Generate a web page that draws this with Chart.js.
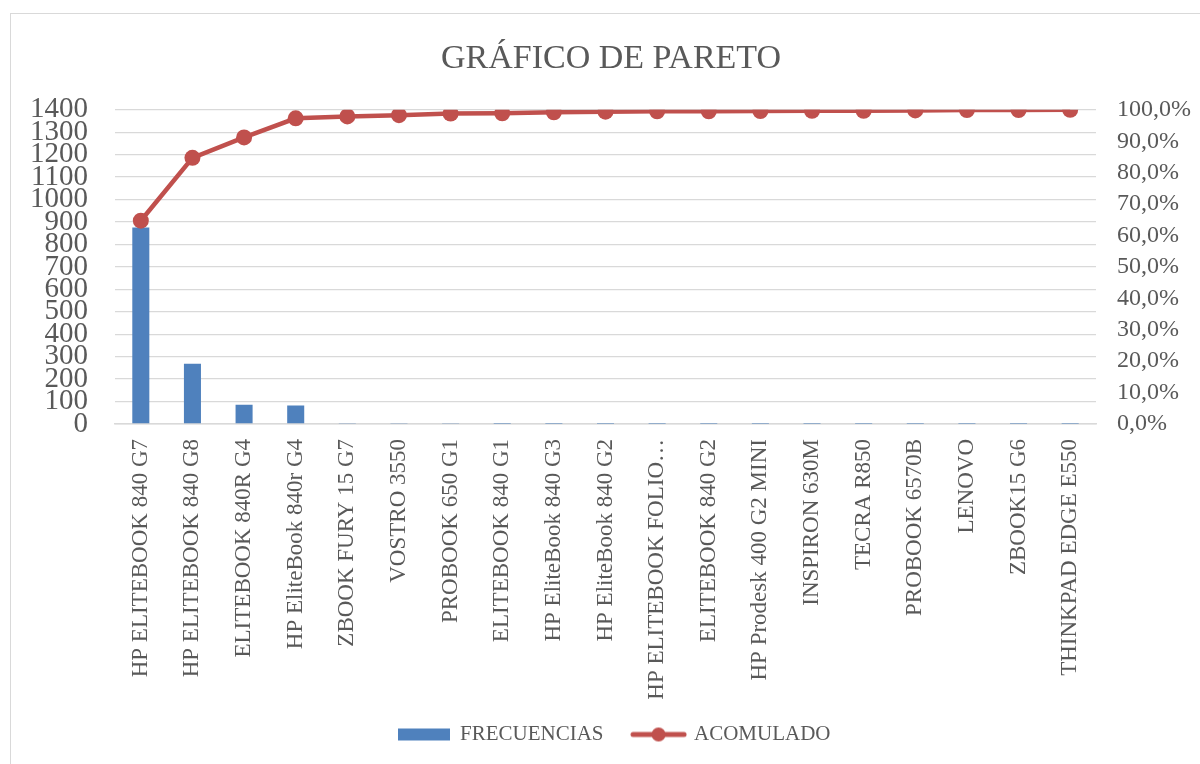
<!DOCTYPE html>
<html>
<head>
<meta charset="utf-8">
<script src="https://cdn.jsdelivr.net/npm/chart.js@4/dist/chart.umd.min.js"></script>
<style>
    html, body { margin: 0; padding: 0; background: #fff; overflow: hidden; }
    #wrap { position: relative; width: 1200px; height: 764px; }
    #frame { position: absolute; left: 10px; top: 13px; width: 1300px; height: 900px; border: 1px solid #d9d9d9; box-sizing: border-box; }
    #paretoChart { position: absolute; left: 0; top: 0; }
</style>
</head>
<body>
<div id="wrap">
    <div id="frame"></div>
    <canvas id="paretoChart" width="1200" height="764"></canvas>
</div>
<script>
const categories = [
    'HP ELITEBOOK 840 G7', 'HP ELITEBOOK 840 G8', 'ELITEBOOK 840R G4', 'HP EliteBook 840r G4',
    'ZBOOK FURY 15 G7', 'VOSTRO 3550', 'PROBOOK 650 G1', 'ELITEBOOK 840 G1',
    'HP EliteBook 840 G3', 'HP EliteBook 840 G2', 'HP ELITEBOOK FOLIO…', 'ELITEBOOK 840 G2',
    'HP Prodesk 400 G2 MINI', 'INSPIRON 630M', 'TECRA R850', 'PROBOOK 6570B',
    'LENOVO', 'ZBOOK15 G6', 'THINKPAD EDGE E550'
];
const frecuencias = [876, 268, 86, 82, 5, 4, 4, 1, 1, 1, 1, 1, 1, 1, 1, 1, 1, 1, 1];
const acomulado = [64.7, 84.7, 91.2, 97.3, 97.9, 98.3, 98.8, 98.9, 99.2, 99.4, 99.5, 99.5, 99.6, 99.7, 99.7, 99.8, 99.9, 99.9, 100.0];
const leftTicks = [0, 1400, 100];
const rightTicks = [0, 100, 10];

const BLUE = '#4F81BD';
const RED = '#C0504D';
const TEXT = '#595959';
const GRID = '#D9D9D9';
const FONT = "'Liberation Serif', 'Times New Roman', serif";

// legend swatches drawn as small canvases
const makeSwatch = (kind) => {
    const c = document.createElement('canvas');
    c.width = 57; c.height = 18;
    const g = c.getContext('2d');
    if (kind === 'bar') {
        g.fillStyle = BLUE;
        g.fillRect(2, 3, 52, 12);
    } else {
        g.strokeStyle = RED; g.lineWidth = 5; g.lineCap = 'round';
        g.beginPath(); g.moveTo(3, 9); g.lineTo(54, 9); g.stroke();
        g.fillStyle = RED;
        g.beginPath(); g.arc(28.5, 9, 7, 0, Math.PI * 2); g.fill();
    }
    return c;
};
const swatches = [makeSwatch('bar'), makeSwatch('line')];

// the excel frame is a bit wider than the page, so title and legend sit right of centre
const shiftBoxes = {
    id: 'shiftBoxes',
    afterLayout(chart) {
        chart.titleBlock.left += 11;
        chart.titleBlock.right += 11;
        chart.legend.left += 15;
        chart.legend.right += 15;
        // let the long category labels run past the axis box instead of being clipped
        chart.scales.x.bottom = chart.height;
    }
};

new Chart(document.getElementById('paretoChart'), {
    data: {
        labels: categories,
        datasets: [
            {
                type: 'line',
                label: 'ACOMULADO',
                data: acomulado.map(v => v / 100),
                yAxisID: 'y1',
                borderColor: RED,
                backgroundColor: RED,
                borderWidth: 4.5,
                pointRadius: 8,
                pointHoverRadius: 8,
                pointBackgroundColor: RED,
                pointBorderWidth: 0,
                tension: 0,
                order: 0
            },
            {
                type: 'bar',
                label: 'FRECUENCIAS',
                data: frecuencias,
                yAxisID: 'y',
                backgroundColor: BLUE,
                borderWidth: 0,
                barPercentage: 0.66,
                categoryPercentage: 0.5,
                order: 1
            }
        ]
    },
    plugins: [shiftBoxes],
    options: {
        responsive: false,
        animation: false,
        layout: { padding: { top: 0, bottom: 9, left: 0, right: 0 } },
        plugins: {
            title: {
                display: true,
                text: 'GRÁFICO DE PARETO',
                color: TEXT,
                font: { family: FONT, size: 34, weight: 'normal', lineHeight: 1.2 },
                padding: { top: 39, bottom: 30 }
            },
            legend: {
                position: 'bottom',
                reverse: true,
                labels: {
                    color: TEXT,
                    font: { family: FONT, size: 21 },
                    usePointStyle: true,
                    pointStyleWidth: 50,
                    boxHeight: 18,
                    padding: 30,
                    generateLabels: (chart) => chart.data.datasets.map((ds, i) => ({
                        text: ds.label,
                        datasetIndex: i,
                        pointStyle: ds.type === 'bar' ? swatches[0] : swatches[1],
                        fontColor: TEXT,
                        lineWidth: 0,
                        hidden: false
                    }))
                }
            },
            tooltip: { enabled: false }
        },
        scales: {
            x: {
                offset: true,
                grid: { display: false, drawTicks: false },
                border: { color: GRID, width: 1.5 },
                ticks: {
                    color: TEXT,
                    font: { family: FONT, size: 23 },
                    maxRotation: 90,
                    minRotation: 90,
                    padding: 15,
                    autoSkip: false
                },
                afterFit: (scale) => { scale.height = 270; }
            },
            y: {
                position: 'left',
                min: leftTicks[0],
                max: leftTicks[1],
                ticks: {
                    stepSize: leftTicks[2],
                    maxTicksLimit: 20,
                    autoSkip: false,
                    color: TEXT,
                    font: { family: FONT, size: 29, lineHeight: 1 },
                    padding: 27,
                    callback: (v) => String(v)
                },
                grid: { color: GRID, lineWidth: 1.3, drawTicks: false },
                border: { display: false },
                afterFit: (scale) => { scale.width = 115; }
            },
            y1: {
                position: 'right',
                min: rightTicks[0] / 100,
                max: rightTicks[1] / 100,
                ticks: {
                    stepSize: rightTicks[2] / 100,
                    maxTicksLimit: 20,
                    autoSkip: false,
                    color: TEXT,
                    font: { family: FONT, size: 24 },
                    padding: 21,
                    callback: (v) => (v * 100).toFixed(1).replace('.', ',') + '%'
                },
                grid: { drawOnChartArea: false, drawTicks: false },
                border: { display: false },
                afterFit: (scale) => { scale.width = 104; }
            }
        }
    }
});
</script>
</body>
</html>
